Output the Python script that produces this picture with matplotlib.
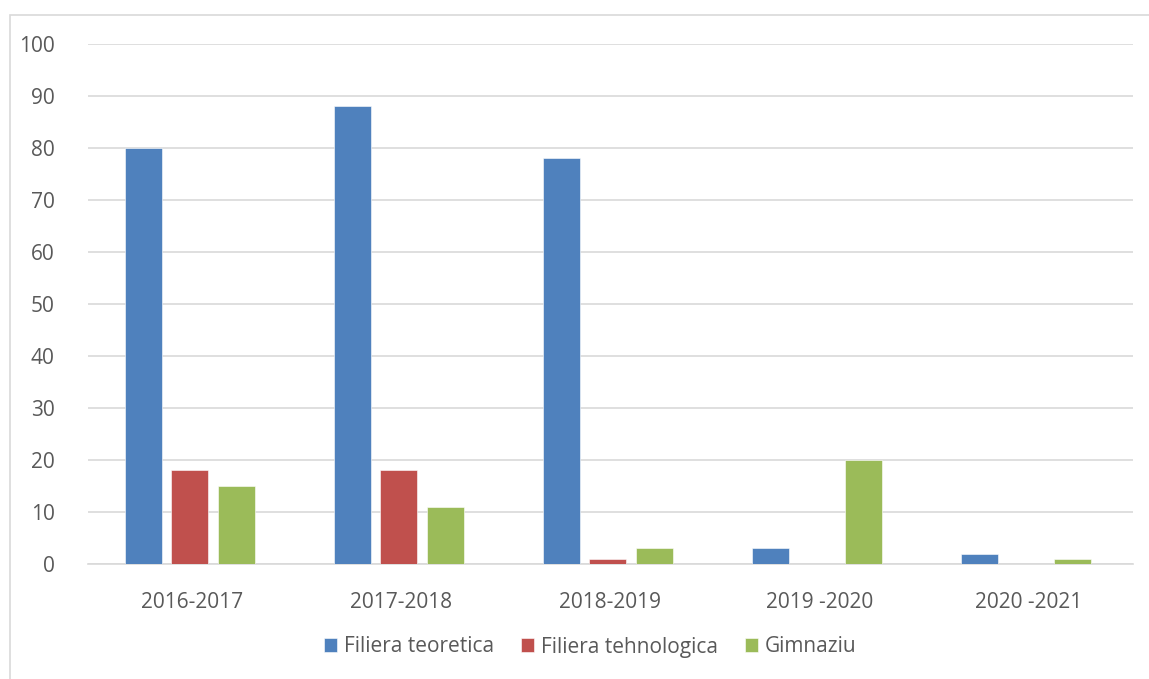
import numpy as np
import matplotlib
matplotlib.use("Agg")
import matplotlib.pyplot as plt
from matplotlib.patches import Rectangle

ani = ["2016-2017", "2017-2018", "2018-2019", "2019 -2020", "2020 -2021"]
teoretica = [80, 88, 78, 3, 2]
tehnologica = [18, 18, 1, 0, 0]
gimnaziu = [15, 11, 3, 20, 1]

serii = [
    ("Filiera teoretica", teoretica, "#4F81BD"),
    ("Filiera tehnologica", tehnologica, "#C0504D"),
    ("Gimnaziu", gimnaziu, "#9BBB59"),
]

plt.rcParams['font.family'] = ['Open Sans', 'DejaVu Sans']
text_color = "#595959"

fig = plt.figure(figsize=(11.49, 6.79), dpi=100)
# chenarul graficului (doar stanga si sus se vad)
fig.add_artist(Rectangle((10 / 1149, -0.01), 1.2, 1 - 15 / 679 + 0.01,
                         transform=fig.transFigure, fill=False,
                         edgecolor="#D9D9D9", linewidth=1.2))

ax = fig.add_axes([88 / 1149, 1 - 564 / 679, (1133 - 88) / 1149, (564 - 44) / 679])

x = np.arange(len(ani))
latime = 0.177
pas = 0.222
for i, (nume, valori, culoare) in enumerate(serii):
    ax.bar(x - 0.012 + (i - 1) * pas, valori, width=latime, color=culoare,
           label=nume, zorder=3, edgecolor="white", linewidth=0.4)

ax.set_xlim(-0.5, len(ani) - 0.5)
ax.set_ylim(0, 100)
ax.set_yticks(range(0, 101, 10))
ax.set_xticks(x)
ax.set_xticklabels(ani)
ax.grid(axis="y", color="#D9D9D9", linewidth=1.2, zorder=0)
ax.set_axisbelow(True)
for s in ["top", "right", "left"]:
    ax.spines[s].set_visible(False)
ax.spines["bottom"].set_color("#D9D9D9")
ax.spines["bottom"].set_linewidth(1.2)
ax.tick_params(axis="both", length=0, labelsize=15, colors=text_color)
ax.tick_params(axis="x", pad=20)
ax.tick_params(axis="y", pad=24)

leg = fig.legend(loc="center", bbox_to_anchor=(590 / 1149, 1 - 647 / 679), ncol=3,
                 frameon=False, fontsize=15, handlelength=0.65, handleheight=0.65,
                 handletextpad=0.3, columnspacing=1.3)
for t in leg.get_texts():
    t.set_color(text_color)

fig.savefig("out.png", dpi=100)
